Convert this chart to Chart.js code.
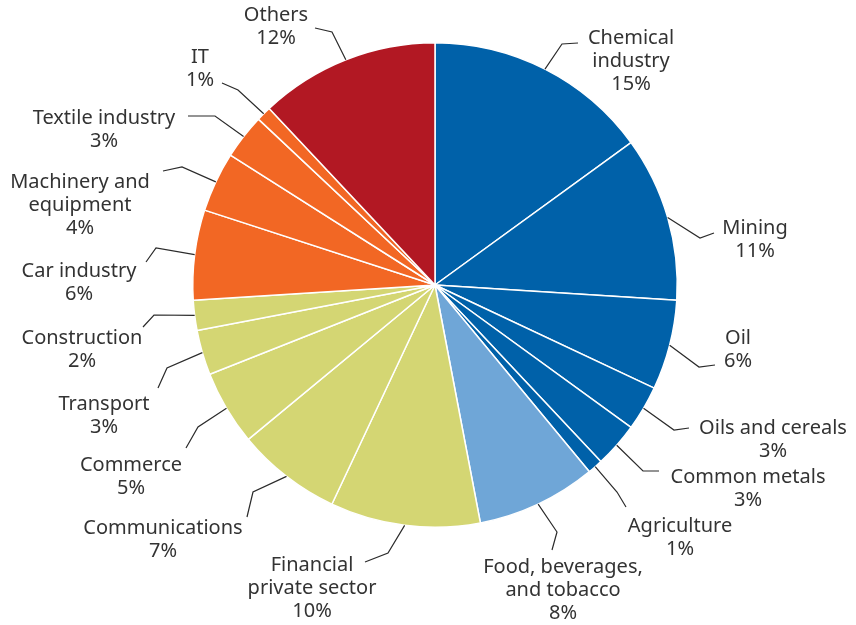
<!DOCTYPE html>
<html>
<head>
<meta charset="utf-8">
<script src="https://cdn.jsdelivr.net/npm/chart.js@4/dist/chart.umd.min.js"></script>
<style>
  html, body { margin: 0; padding: 0; background: #ffffff; }
  #wrap { width: 856px; height: 625px; position: relative; }
</style>
</head>
<body>
<div id="wrap"><canvas id="c" width="856" height="625"></canvas></div>
<script>
// Sectors, clockwise from 12 o'clock
const categories = [
  "Chemical industry", "Mining", "Oil", "Oils and cereals", "Common metals",
  "Agriculture", "Food, beverages, and tobacco", "Financial private sector",
  "Communications", "Commerce", "Transport", "Construction", "Car industry",
  "Machinery and equipment", "Textile industry", "IT", "Others"
];
// Share of the total, percent
const shares = [15, 11, 6, 3, 3, 1, 8, 10, 7, 5, 3, 2, 6, 4, 3, 1, 12];

// Fill per sector group
const sliceColors = [
  "#0061a9", "#0061a9", "#0061a9", "#0061a9", "#0061a9", "#0061a9",
  "#6fa6d7",
  "#d4d673", "#d4d673", "#d4d673", "#d4d673", "#d4d673",
  "#f26724", "#f26724", "#f26724", "#f26724",
  "#b21823"
];

// Label lines and leader geometry, offsets from the pie centre:
// elbow = bend of the leader, end = tip near the text, text = centre of first line
const labelLayout = [
  { lines: ["Chemical", "industry"], elbow: [127, -241], end: [143, -242], text: [196, -247] },
  { lines: ["Mining"],               elbow: [265, -47],  end: [279, -52],  text: [320, -57] },
  { lines: ["Oil"],                  elbow: [264, 82],   end: [280, 80],   text: [303, 53] },
  { lines: ["Oils and cereals"],     elbow: [239, 145],  end: [254, 143],  text: [338, 143] },
  { lines: ["Common metals"],        elbow: [208, 186],  end: [224, 186],  text: [313, 192] },
  { lines: ["Agriculture"],          elbow: [182, 207],  end: [191, 222],  text: [245, 241] },
  { lines: ["Food, beverages,", "and tobacco"], elbow: [122, 247], end: [117, 265], text: [128, 282] },
  { lines: ["Financial", "private sector"],     elbow: [-47, 268], end: [-70, 277], text: [-123, 280] },
  { lines: ["Communications"],       elbow: [-182, 207], end: [-188, 232], text: [-272, 243] },
  { lines: ["Commerce"],             elbow: [-237, 142], end: [-249, 163], text: [-304, 180] },
  { lines: ["Transport"],            elbow: [-268, 83],  end: [-277, 103], text: [-331, 119] },
  { lines: ["Construction"],         elbow: [-281, 30],  end: [-292, 42],  text: [-353, 53] },
  { lines: ["Car industry"],         elbow: [-279, -37], end: [-289, -23], text: [-356, -14] },
  { lines: ["Machinery and", "equipment"], elbow: [-253, -118], end: [-272, -114], text: [-355, -103] },
  { lines: ["Textile industry"],     elbow: [-220, -169], end: [-247, -169], text: [-331, -167] },
  { lines: ["IT"],                   elbow: [-197, -195], end: [-213, -202], text: [-235, -228] },
  { lines: ["Others"],               elbow: [-103, -253], end: [-120, -257], text: [-159, -270] }
];

const FONT = '20px "Noto Sans", "Open Sans", sans-serif';
const LINE_H = 23;
const TEXT_COLOR = "#333333";

// Leader lines and two/three-line labels around the pie
const leaderLabels = {
  id: "leaderLabels",
  afterDatasetsDraw(chart) {
    const ctx = chart.ctx;
    const meta = chart.getDatasetMeta(0);
    ctx.save();
    ctx.font = FONT;
    ctx.fillStyle = TEXT_COLOR;
    ctx.strokeStyle = "#2b2b2b";
    ctx.lineWidth = 1.2;
    ctx.textAlign = "center";
    ctx.textBaseline = "middle";
    meta.data.forEach((arc, i) => {
      const p = arc.getProps(["x", "y", "startAngle", "endAngle", "outerRadius"], true);
      const mid = (p.startAngle + p.endAngle) / 2;
      const sx = p.x + p.outerRadius * Math.cos(mid);
      const sy = p.y + p.outerRadius * Math.sin(mid);
      const L = labelLayout[i];
      ctx.beginPath();
      ctx.moveTo(sx, sy);
      ctx.lineTo(p.x + L.elbow[0], p.y + L.elbow[1]);
      ctx.lineTo(p.x + L.end[0], p.y + L.end[1]);
      ctx.stroke();
      const lines = L.lines.concat([shares[i] + "%"]);
      lines.forEach((t, k) => {
        ctx.fillText(t, p.x + L.text[0], p.y + L.text[1] + k * LINE_H);
      });
    });
    ctx.restore();
  }
};

new Chart(document.getElementById("c"), {
  type: "pie",
  data: {
    labels: categories,
    datasets: [{
      data: shares,
      backgroundColor: sliceColors,
      borderColor: "#ffffff",
      borderWidth: 1.5,
      hoverOffset: 0
    }]
  },
  options: {
    responsive: false,
    animation: false,
    layout: { padding: { left: 192, right: 178, top: 42, bottom: 97 } },
    plugins: {
      legend: { display: false },
      tooltip: { enabled: false }
    }
  },
  plugins: [leaderLabels]
});
</script>
</body>
</html>
